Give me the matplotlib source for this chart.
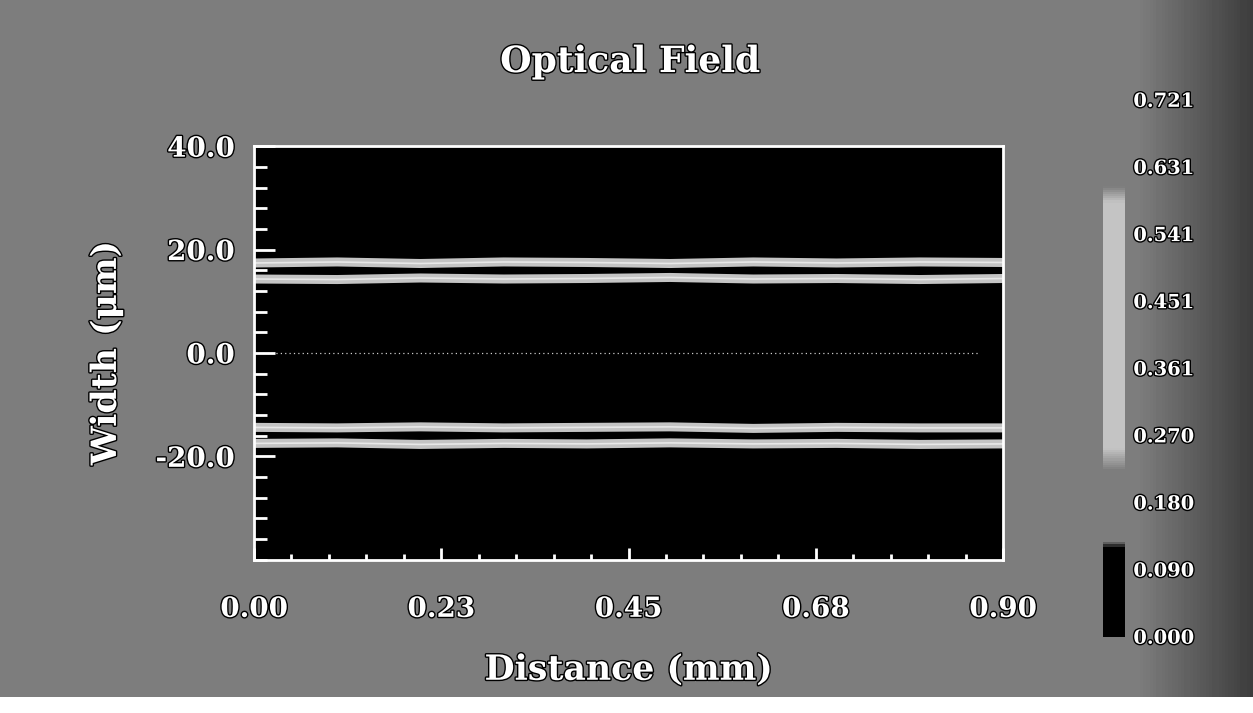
import numpy as np
import matplotlib
matplotlib.use('Agg')
import matplotlib.pyplot as plt
import matplotlib.patheffects as pe
from matplotlib.colors import LinearSegmentedColormap, Normalize
from matplotlib.cm import ScalarMappable

# propagation distance (mm) and mode band centres (um)
distance = [0.00, 0.10, 0.20, 0.30, 0.40, 0.50, 0.60, 0.70, 0.80, 0.90]
band_upper_outer = [17.4, 17.6, 17.3, 17.6, 17.5, 17.3, 17.6, 17.4, 17.6, 17.5]
band_upper_inner = [14.3, 14.2, 14.5, 14.3, 14.4, 14.6, 14.3, 14.4, 14.2, 14.4]
band_lower_inner = [-14.4, -14.5, -14.3, -14.5, -14.4, -14.3, -14.6, -14.4, -14.5, -14.5]
band_lower_outer = [-17.5, -17.4, -17.7, -17.5, -17.6, -17.4, -17.6, -17.5, -17.7, -17.6]
axis_line_end = 0.87

xticks = [0.0, 0.225, 0.45, 0.675, 0.9]
xtick_labels = ['0.00', '0.23', '0.45', '0.68', '0.90']
yticks = [40, 20, 0, -20]
ytick_labels = ['40.0', '20.0', '0.0', '-20.0']

field_max = 0.721
cbar_ticks = np.linspace(0, field_max, 9)
cbar_labels = ['0.000', '0.090', '0.180', '0.270', '0.361', '0.451', '0.541', '0.631', '0.721']

BG = '#7d7d7d'
BAND = '#c4c4c4'
FONT = 'DejaVu Serif'
outline = [pe.withStroke(linewidth=2, foreground='black')]

fig = plt.figure(figsize=(12.53, 7.13), dpi=100, facecolor='white')

# page background: grey sheet, darker towards the right edge
bg = fig.add_axes([0, 0.022, 1, 0.978], zorder=-10)
gx = np.linspace(0, 1, 400)
shade = np.where(gx > 0.91, 0.49 - (gx - 0.91) / 0.09 * 0.25, 0.49)
bg.imshow(np.tile(shade, (10, 1)), cmap='gray', vmin=0, vmax=1,
          aspect='auto', extent=[0, 1, 0, 1])
bg.axis('off')

ax = fig.add_axes([254 / 1253, 0.215, 749 / 1253, 0.58])
ax.set_facecolor('black')

for band in (band_upper_outer, band_upper_inner, band_lower_inner, band_lower_outer):
    ax.plot(distance, band, color=BAND, lw=6.5, solid_capstyle='butt')
    ax.plot(distance, band, color='white', lw=1.2, alpha=0.6)
ax.plot([0, axis_line_end], [0, 0], color='white', lw=0.9,
        linestyle=(0, (1, 2.5)), alpha=0.8)

ax.set_xlim(0, 0.9)
ax.set_ylim(-40, 40)
ax.set_xticks(xticks)
ax.set_xticklabels(xtick_labels)
ax.set_xticks(np.arange(0, 0.9001, 0.045), minor=True)
ax.set_yticks(yticks)
ax.set_yticklabels(ytick_labels)
ax.set_yticks(np.arange(-40, 40.1, 4), minor=True)

for s in ax.spines.values():
    s.set_color('white')
    s.set_linewidth(2)
ax.tick_params(axis='both', which='both', direction='in', colors='white', width=2,
               top=False, right=False)
ax.tick_params(axis='y', which='major', length=15, pad=14)
ax.tick_params(axis='y', which='minor', length=9)
ax.tick_params(axis='x', which='major', length=9, pad=26)
ax.tick_params(axis='x', which='minor', length=4.5)
for lab in ax.get_xticklabels() + ax.get_yticklabels():
    lab.set_fontfamily(FONT)
    lab.set_fontweight('bold')
    lab.set_fontsize(20)
    lab.set_color('white')
    lab.set_path_effects(outline)

ax.set_xlabel('Distance (mm)', fontfamily=FONT, fontweight='bold', fontsize=25,
              color='white', path_effects=outline)
ax.xaxis.set_label_coords(0.5, -0.225)
ax.set_ylabel('Width (μm)', fontfamily=FONT, fontweight='bold', fontsize=25,
              color='white', path_effects=outline)
ax.yaxis.set_label_coords(-0.175, 0.5)

fig.text(0.503, 0.913, 'Optical Field', ha='center', va='center', fontfamily=FONT,
         fontweight='bold', fontsize=26, color='white', path_effects=outline)

# colour scale, printed in grey tones
cmap = LinearSegmentedColormap.from_list('field', [
    (0.0, 'black'), (0.165, 'black'), (0.175, BG), (0.31, BG),
    (0.35, BAND), (0.81, BAND), (0.84, BG), (1.0, BG)])
cax = fig.add_axes([1103 / 1253, 0.107, 22 / 1253, 0.753])
cb = fig.colorbar(ScalarMappable(norm=Normalize(0, field_max), cmap=cmap), cax=cax)
cb.outline.set_visible(False)
cb.set_ticks(cbar_ticks)
cb.set_ticklabels(cbar_labels)
cax.tick_params(length=0, pad=6, colors='white')
for lab in cax.get_yticklabels():
    lab.set_fontfamily(FONT)
    lab.set_fontweight('bold')
    lab.set_fontsize(14)
    lab.set_path_effects(outline)

fig.savefig('out.png', dpi=100, facecolor='white')
